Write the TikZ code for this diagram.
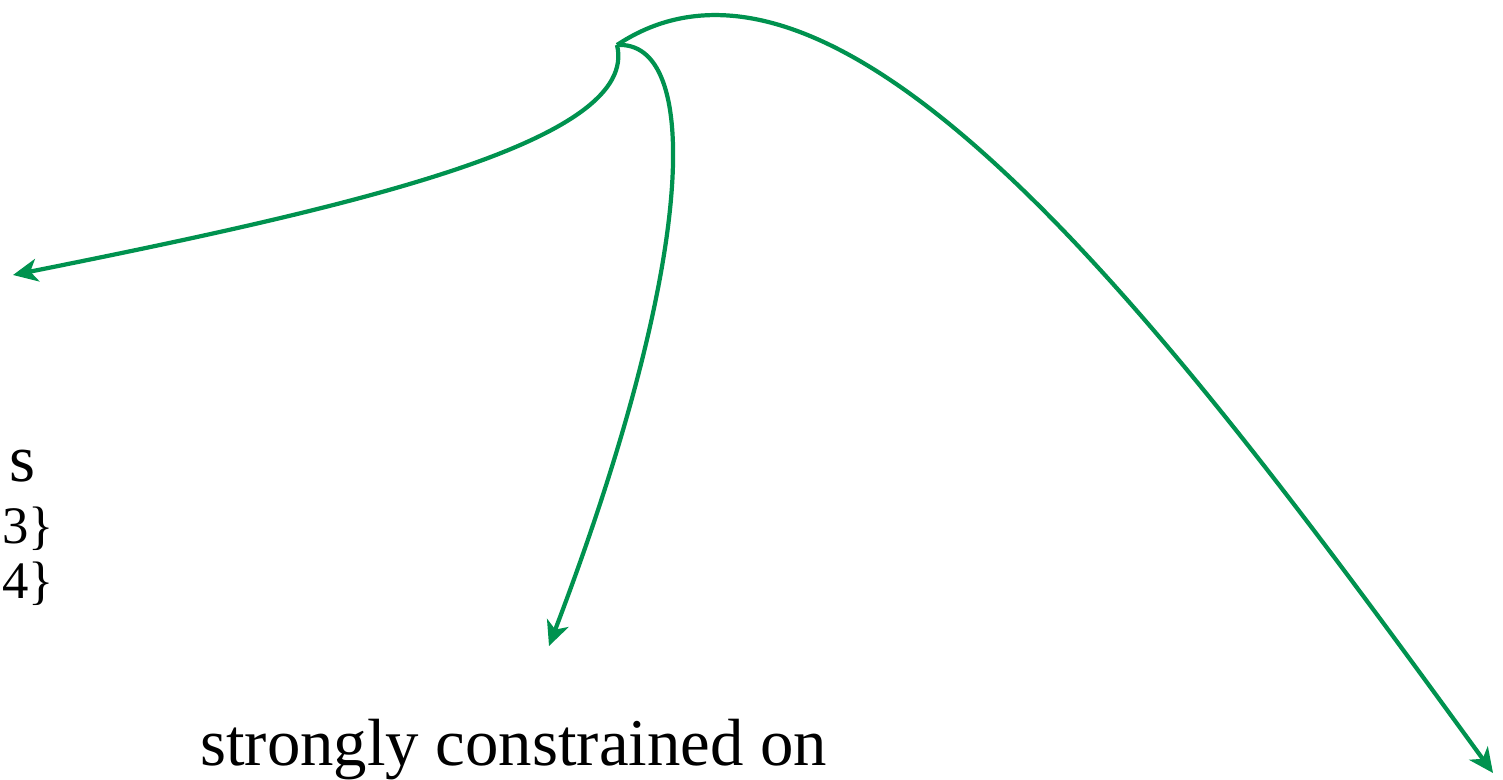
\documentclass[tikz,border=0pt]{standalone}
\usepackage{fontspec}
\setmainfont{Liberation Serif}
\usetikzlibrary{arrows.meta}
\definecolor{flowgreen}{RGB}{0,146,79}
\tikzset{
	cropFlow/.style={
		draw=flowgreen,
		line width=2.4pt,
		-{Stealth[length=14pt,width=13pt,inset=4pt]}
	},
	cropText/.style={
		inner sep=0pt,
		font=\fontsize{38}{45}\selectfont
	},
	cropSmall/.style={
		inner sep=0pt,
		font=\fontsize{30}{36}\selectfont
	}
}
\begin{document}
\begin{tikzpicture}[x=0.02cm,y=-0.02cm]

	\useasboundingbox (0,0) rectangle (1503,779);
	\clip (0,0) rectangle (1503,779);

	% Cut-off labels
	\node[cropText, anchor=base east] (word) at (36,481) {s};
	\node[cropSmall, anchor=base west] (three) at (2,543) {3\}};
	\node[cropSmall, anchor=base west] (four) at (2,598) {4\}};
	\node[cropText, anchor=base west] (strong) at (200,765) {strongly constrained on};

	% Source and targets
	\coordinate (src) at (617,45);
	\coordinate (leftend) at (13,275);
	\coordinate (midend) at (549,646);
	\coordinate (rightend) at (1493,773);

	% Flows
	\draw[cropFlow] (src) .. controls (640,140) and (364,205) .. (leftend);
	\draw[cropFlow] (src) .. controls (700,40) and (700,250) .. (midend);
	\draw[cropFlow] (src) .. controls (850,-110) and (1198,368) .. (rightend);

\end{tikzpicture}
\end{document}
